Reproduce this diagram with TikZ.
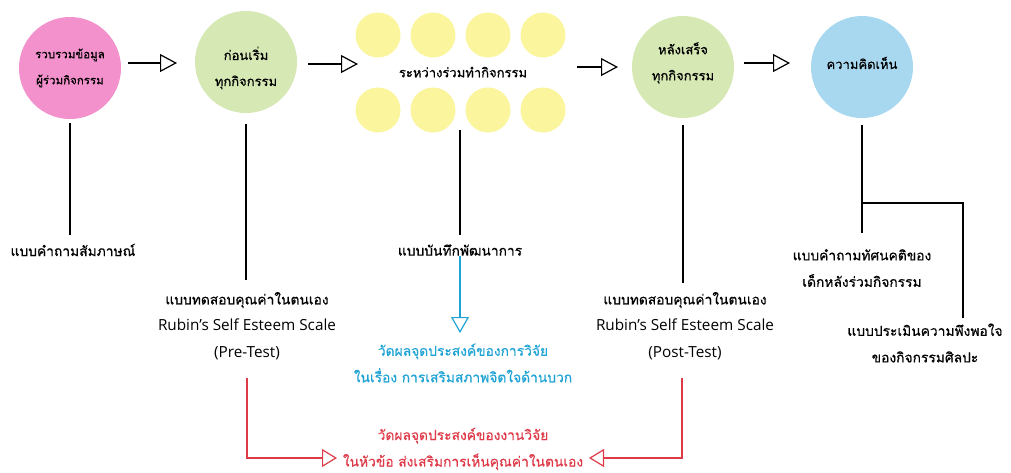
\documentclass[tikz,border=0pt]{standalone}
\usepackage{fontspec}
\setmainfont[Script=Thai, FakeBold=0.6]{Loma}
\newfontfamily\latinfont{Open Sans}
\usetikzlibrary{arrows.meta}
\definecolor{pinkc}{HTML}{F391CC}
\definecolor{greenc}{HTML}{D6E8B4}
\definecolor{yellowc}{HTML}{FBF59E}
\definecolor{bluec}{HTML}{A8D8F0}
\definecolor{bluetext}{HTML}{1FA3D4}
\definecolor{redtext}{HTML}{DE3A48}
\tikzset{
  circ/.style={circle, minimum size=102pt, inner sep=0pt, draw=none},
  ycirc/.style={circle, minimum size=45pt, inner sep=0pt, fill=yellowc, draw=none},
  ctxt/.style={align=center, font=\fontsize{13}{26}\selectfont, inner sep=0pt},
  txt/.style={align=center, font=\fontsize{13.8}{26.5}\selectfont, inner sep=0pt},
  lat/.style={font=\fontsize{15.3}{26.5}\selectfont\latinfont},
  conn/.style={line width=1.2pt, black},
  flow/.style={line width=1.2pt, black, -{Triangle[open, length=17pt, width=18pt, line width=1.2pt]}},
  bflow/.style={line width=1.4pt, bluetext, -{Triangle[open, length=16pt, width=18pt, line width=1.2pt]}},
  rflow/.style={line width=1.2pt, redtext, -{Triangle[open, length=15pt, width=18pt, line width=1.2pt]}},
}
\newcommand{\lt}[1]{{\fontsize{15.3}{26.5}\selectfont\latinfont #1}}
\begin{document}
\begin{tikzpicture}[x=1pt,y=-1pt]
\useasboundingbox (0,0) rectangle (1011,472);
% circles
\node[circ, fill=pinkc] (c1) at (70,68) {};
\node[circ, fill=greenc] (c2) at (246,62) {};
\node[circ, fill=greenc] (c4) at (683,67) {};
\node[circ, fill=bluec] (c5) at (862,67) {};
\foreach \i/\x in {1/378,2/433,3/488,4/543}{
  \node[ycirc] (yt\i) at (\x,35) {};
  \node[ycirc] (yb\i) at (\x,110) {};
}
% circle texts
\node[ctxt, font=\fontsize{11.5}{26}\selectfont] (t1) at (70,68) {รวบรวมข้อมูล\\ผู้ร่วมกิจกรรม};
\node[ctxt] (t2) at (246,68) {ก่อนเริ่ม\\ทุกกิจกรรม};
\node[ctxt] (t3) at (463,72) {ระหว่างร่วมทำกิจกรรม};
\node[ctxt] (t4) at (683,63) {หลังเสร็จ\\ทุกกิจกรรม};
\node[ctxt] (t5) at (862,63) {ความคิดเห็น};
% flow arrows
\coordinate (a1s) at (128,63); \coordinate (a1e) at (177,63);
\coordinate (a2s) at (308,64); \coordinate (a2e) at (358,64);
\coordinate (a3s) at (577,67); \coordinate (a3e) at (618,67);
\coordinate (a4s) at (744,63); \coordinate (a4e) at (790,63);
\draw[flow] (a1s) -- (a1e);
\draw[flow] (a2s) -- (a2e);
\draw[flow] (a3s) -- (a3e);
\draw[flow] (a4s) -- (a4e);
% labels
\node[txt] (l1) at (73,250) {แบบคำถามสัมภาษณ์};
\node[txt] (l2) at (247,326) {แบบทดสอบคุณค่าในตนเอง\\\lt{Rubin’s Self Esteem Scale}\\\lt{(Pre-Test)}};
\node[txt] (l3) at (460,250) {แบบบันทึกพัฒนาการ};
\node[txt] (l4) at (685,326) {แบบทดสอบคุณค่าในตนเอง\\\lt{Rubin’s Self Esteem Scale}\\\lt{(Post-Test)}};
\node[txt] (l5) at (862,268) {แบบคำถามทัศนคติของ\\เด็กหลังร่วมกิจกรรม};
\node[txt] (l6) at (925,343) {แบบประเมินความพึงพอใจ\\ของกิจกรรมศิลปะ};
\node[txt, text=bluetext] (bt) at (463,363) {วัดผลจุดประสงค์ของการวิจัย\\ในเรื่อง การเสริมสภาพจิตใจด้านบวก};
\node[txt, text=redtext] (rt) at (463,449) {วัดผลจุดประสงค์ของงานวิจัย\\ในหัวข้อ ส่งเสริมการเห็นคุณค่าในตนเอง};
% vertical connectors
\coordinate (v1a) at (70,123); \coordinate (v1b) at (70,235);
\coordinate (v2a) at (246,124); \coordinate (v2b) at (246,280);
\coordinate (v3a) at (460,130); \coordinate (v3b) at (460,235);
\coordinate (v4a) at (683,125); \coordinate (v4b) at (683,283);
\coordinate (v5a) at (862,125); \coordinate (v5b) at (862,233);
\coordinate (v5j) at (862,203); \coordinate (v6c) at (963,203); \coordinate (v6b) at (963,318);
\draw[conn] (v1a) -- (v1b);
\draw[conn] (v2a) -- (v2b);
\draw[conn] (v3a) -- (v3b);
\draw[conn] (v4a) -- (v4b);
\draw[conn] (v5a) -- (v5b);
\draw[conn] (v5j) -- (v6c) -- (v6b);
% blue arrow
\coordinate (ba) at (460,256); \coordinate (bb) at (460,333);
\draw[bflow] (ba) -- (bb);
% red arrows
\coordinate (ra) at (247,378); \coordinate (rc) at (247,458); \coordinate (re) at (337,458);
\coordinate (rb) at (682,378); \coordinate (rd) at (682,458); \coordinate (rf) at (589,458);
\draw[rflow] (ra) -- (rc) -- (re);
\draw[rflow] (rb) -- (rd) -- (rf);
\end{tikzpicture}
\end{document}
